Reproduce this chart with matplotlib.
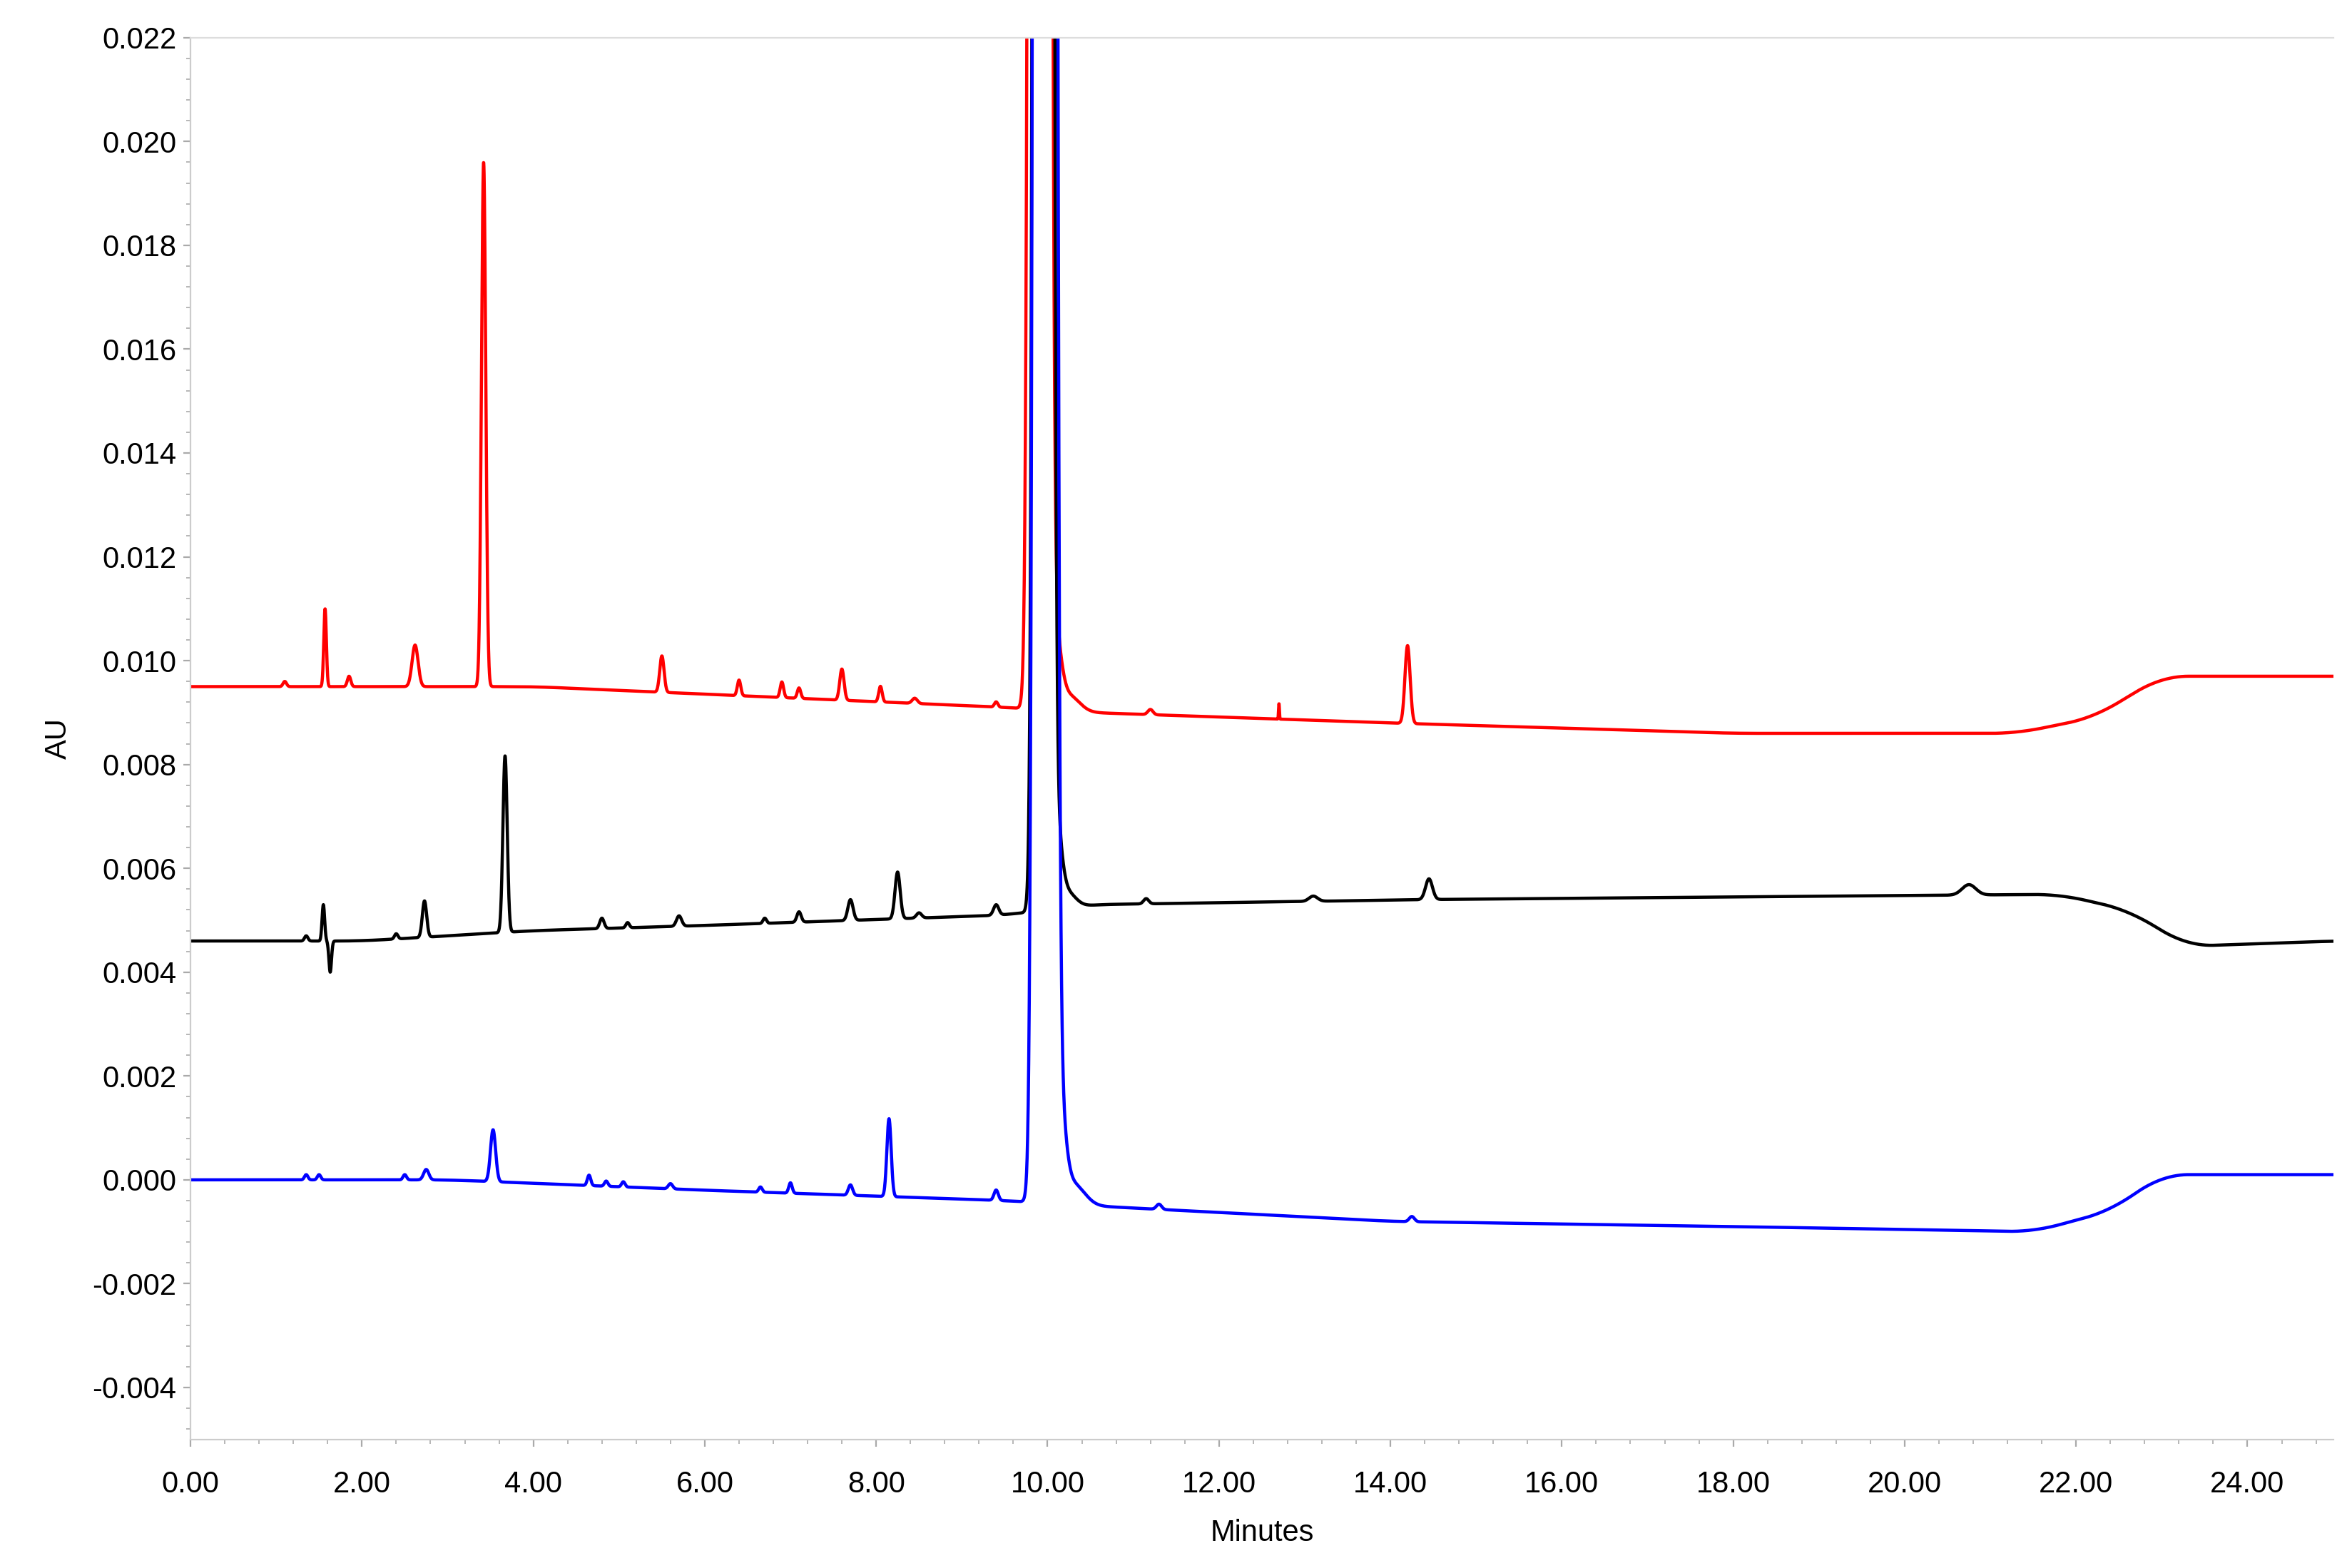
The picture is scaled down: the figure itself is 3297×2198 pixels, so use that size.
import numpy as np
import matplotlib.pyplot as plt
from matplotlib.ticker import MultipleLocator

plt.rcParams['font.family'] = ['Liberation Sans', 'DejaVu Sans']

# baseline knots (minutes, AU)
red_base_t = [0, 4, 9.5, 10.5, 14, 18, 21.3, 22.2, 23.0, 25]
red_base_y = [0.0095, 0.0095, 0.0091, 0.0090, 0.0088, 0.0086, 0.0086, 0.0089, 0.0097, 0.0097]
black_base_t = [0, 2, 4, 6, 9.5, 10.5, 14.5, 21.8, 22.6, 23.3, 25]
black_base_y = [0.0046, 0.0046, 0.0048, 0.0049, 0.0051, 0.0053, 0.0054, 0.0055, 0.0052, 0.0045, 0.0046]
blue_base_t = [0, 3, 6, 9.5, 10.5, 14, 18, 21.5, 22.4, 23.0, 25]
blue_base_y = [0.0, 0.0, -0.0002, -0.0004, -0.0005, -0.0008, -0.0009, -0.0010, -0.0006, 0.0001, 0.0001]

# peaks: (centre, height above baseline, sigma)
red_peaks = [(1.57, 0.0015, 0.015), (1.85, 0.0002, 0.02), (1.1, 0.0001, 0.02), (2.62, 0.0008, 0.035),
             (3.42, 0.0101, 0.025), (5.5, 0.0007, 0.025), (6.4, 0.0003, 0.02), (6.9, 0.0003, 0.02),
             (7.1, 0.0002, 0.02), (7.6, 0.0006, 0.025), (8.05, 0.0003, 0.02), (8.45, 0.0001, 0.03),
             (9.4, 0.0001, 0.02), (9.91, 0.6, 0.055), (10.08, 0.0015, 0.07), (10.25, 0.0003, 0.12),
             (11.2, 0.0001, 0.03), (12.7, 0.0003, 0.005), (14.2, 0.0015, 0.03)]
black_peaks = [(1.55, 0.0007, 0.015), (1.63, -0.0006, 0.015), (1.35, 0.0001, 0.02), (2.4, 0.0001, 0.02),
               (2.73, 0.0007, 0.025), (3.67, 0.0034, 0.025), (4.8, 0.0002, 0.025), (5.1, 0.0001, 0.02),
               (5.7, 0.0002, 0.03), (6.7, 0.0001, 0.02), (7.1, 0.0002, 0.025), (7.7, 0.0004, 0.03),
               (8.25, 0.0009, 0.03), (8.5, 0.0001, 0.03), (9.4, 0.0002, 0.03), (9.95, 0.6, 0.05),
               (10.1, 0.0015, 0.06), (10.22, 0.0003, 0.1), (11.15, 0.0001, 0.03), (13.1, 0.0001, 0.05),
               (14.45, 0.0004, 0.04), (20.75, 0.0002, 0.08)]
blue_peaks = [(1.35, 0.0001, 0.02), (1.5, 0.0001, 0.02), (2.5, 0.0001, 0.02), (2.75, 0.0002, 0.03),
              (3.53, 0.001, 0.03), (4.65, 0.0002, 0.02), (4.85, 0.0001, 0.02), (5.05, 0.0001, 0.02),
              (5.6, 0.0001, 0.025), (6.65, 0.0001, 0.02), (7.0, 0.0002, 0.02), (7.7, 0.0002, 0.025),
              (8.15, 0.0015, 0.025), (9.4, 0.0002, 0.025), (9.97, 0.7, 0.057), (10.13, 0.002, 0.07),
              (10.3, 0.0004, 0.13), (11.3, 0.0001, 0.03), (14.25, 0.0001, 0.03)]

traces = [(red_base_t, red_base_y, red_peaks, "#ff0000"),
          (black_base_t, black_base_y, black_peaks, "#000000"),
          (blue_base_t, blue_base_y, blue_peaks, "#0000ff")]

t = np.linspace(0, 25, 12000)
kernel = np.ones(300) / 300

fig = plt.figure(figsize=(16.485, 10.99), dpi=200)
ax = fig.add_axes([0.081, 0.082, 0.911, 0.894])

for bt, by, peaks, color in traces:
    base = np.interp(t, bt, by)
    padded = np.pad(base, 150, mode="edge")
    y = np.convolve(padded, kernel, mode="same")[150:-150]
    for c, h, s in peaks:
        y = y + h * np.exp(-0.5 * ((t - c) / s) ** 2)
    ax.plot(t, y, color=color, lw=1.6)

ax.set_xlim(0, 25)
ax.set_ylim(-0.005, 0.022)
ax.xaxis.set_major_locator(MultipleLocator(2))
ax.xaxis.set_minor_locator(MultipleLocator(0.4))
ax.yaxis.set_major_locator(MultipleLocator(0.002))
ax.yaxis.set_minor_locator(MultipleLocator(0.0004))
ax.xaxis.set_major_formatter(lambda v, p: f"{v:.2f}")
ax.yaxis.set_major_formatter(lambda v, p: f"{v:.3f}")
ax.tick_params(labelsize=15, colors="#000000")
ax.tick_params(axis="x", pad=12)
ax.tick_params(which="both", color="#aaaaaa")
ax.spines["right"].set_visible(False)
ax.spines["top"].set_color("#dddddd")
ax.spines["left"].set_color("#cccccc")
ax.spines["bottom"].set_color("#cccccc")
ax.set_xlabel("Minutes", fontsize=15, labelpad=10)
ax.set_ylabel("AU", fontsize=15, labelpad=10)

fig.savefig("out.png")
